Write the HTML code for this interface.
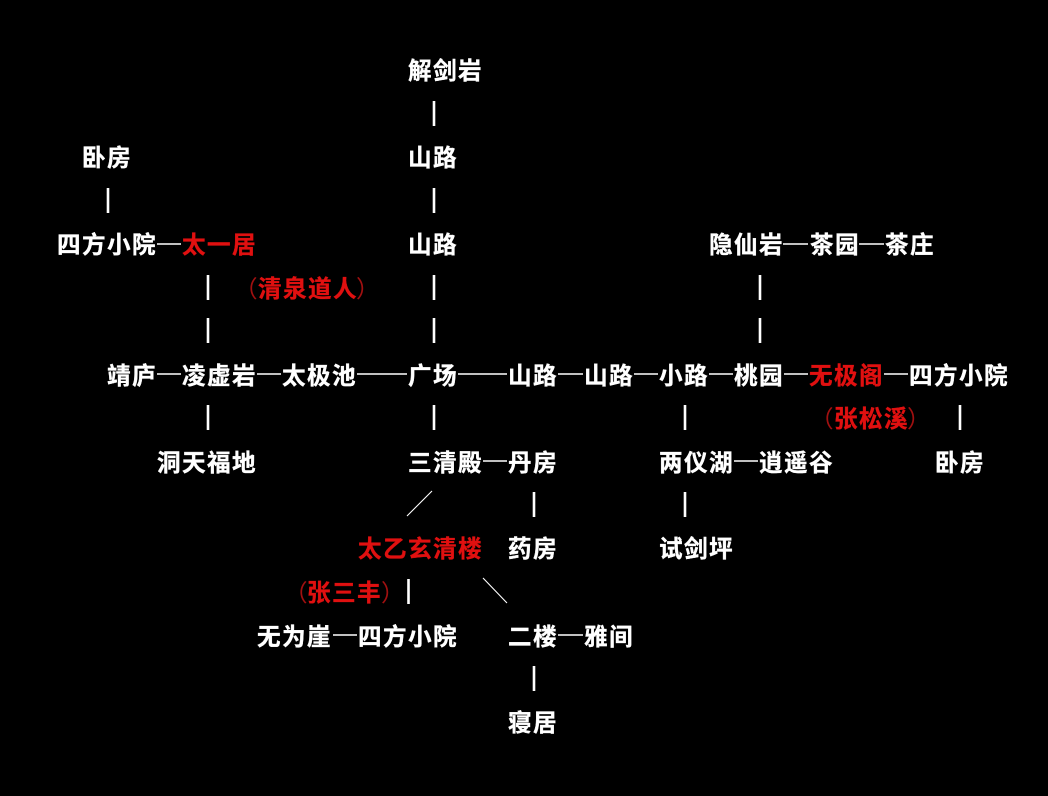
<!DOCTYPE html>
<html><head><meta charset="utf-8">
<style>
html,body{margin:0;padding:0;background:#000;}
svg{display:block;filter:blur(0.35px);}
text{font-family:"Liberation Sans","Noto Sans CJK SC",sans-serif;font-size:23.6px;font-weight:700;letter-spacing:1.4px;fill:#fff;stroke:#fff;stroke-width:0.35px;}
text.r{fill:#e01010;stroke:#e01010;}
text.p{font-weight:400;fill:#a01010;stroke:none;}
</style></head><body>
<svg width="1048" height="796" viewBox="0 0 1048 796" xmlns="http://www.w3.org/2000/svg">
<rect width="1048" height="796" fill="#000"/>
<g>
<text x="408" y="79">解剑岩</text>
<text x="82" y="166">卧房</text>
<text x="408" y="166">山路</text>
<text x="57" y="253">四方小院</text>
<text class="r" x="182" y="253">太一居</text>
<text x="408" y="253">山路</text>
<text x="709" y="253">隐仙岩</text>
<text x="810" y="253">茶园</text>
<text x="885" y="253">茶庄</text>
<text class="p" x="234" y="297">（</text>
<text class="r" x="258" y="297">清泉道人</text>
<text class="p" x="356" y="297">）</text>
<text x="107" y="384">靖庐</text>
<text x="182" y="384">凌虚岩</text>
<text x="282" y="384">太极池</text>
<text x="408" y="384">广场</text>
<text x="508" y="384">山路</text>
<text x="584" y="384">山路</text>
<text x="659" y="384">小路</text>
<text x="734" y="384">桃园</text>
<text class="r" x="809" y="384">无极阁</text>
<text x="909" y="384">四方小院</text>
<text class="p" x="810" y="427">（</text>
<text class="r" x="834" y="427">张松溪</text>
<text class="p" x="907" y="427">）</text>
<text x="157" y="471">洞天福地</text>
<text x="408" y="471">三清殿</text>
<text x="508" y="471">丹房</text>
<text x="659" y="471">两仪湖</text>
<text x="759" y="471">逍遥谷</text>
<text x="935" y="471">卧房</text>
<text class="r" x="358" y="557">太乙玄清楼</text>
<text x="508" y="557">药房</text>
<text x="659" y="557">试剑坪</text>
<text class="p" x="284" y="601">（</text>
<text class="r" x="307" y="601">张三丰</text>
<text class="p" x="381" y="601">）</text>
<text x="257" y="645">无为崖</text>
<text x="358" y="645">四方小院</text>
<text x="508" y="645">二楼</text>
<text x="584" y="645">雅间</text>
<text x="508" y="731">寝居</text>
</g>
<g stroke="#fff" stroke-width="2.6" fill="none">
<path d="M434 101V126M108 188V213M434 188V213M208 275V300M434 275V300M760 275V300M208 318V343M434 318V343M760 318V343M208 405V430M434 405V430M685 405V430M960 405V430M534 492V517M685 492V517M408.500 579V604M534 666V691"/>
</g>
<g stroke="#fff" stroke-width="1.4" fill="none">
<path d="M157 244H181M783 244H808M859 244H884M157 374H181M257 374H281M357 374H407M458 374H507M558 374H583M634 374H658M709 374H733M784 374H808M884 374H908M483 461H507M734 461H758M333 635H357M558 635H583"/>
<path d="M432 491L407 516M483 578L507 603" stroke-width="1.1"/>
</g>
</svg>
</body></html>
